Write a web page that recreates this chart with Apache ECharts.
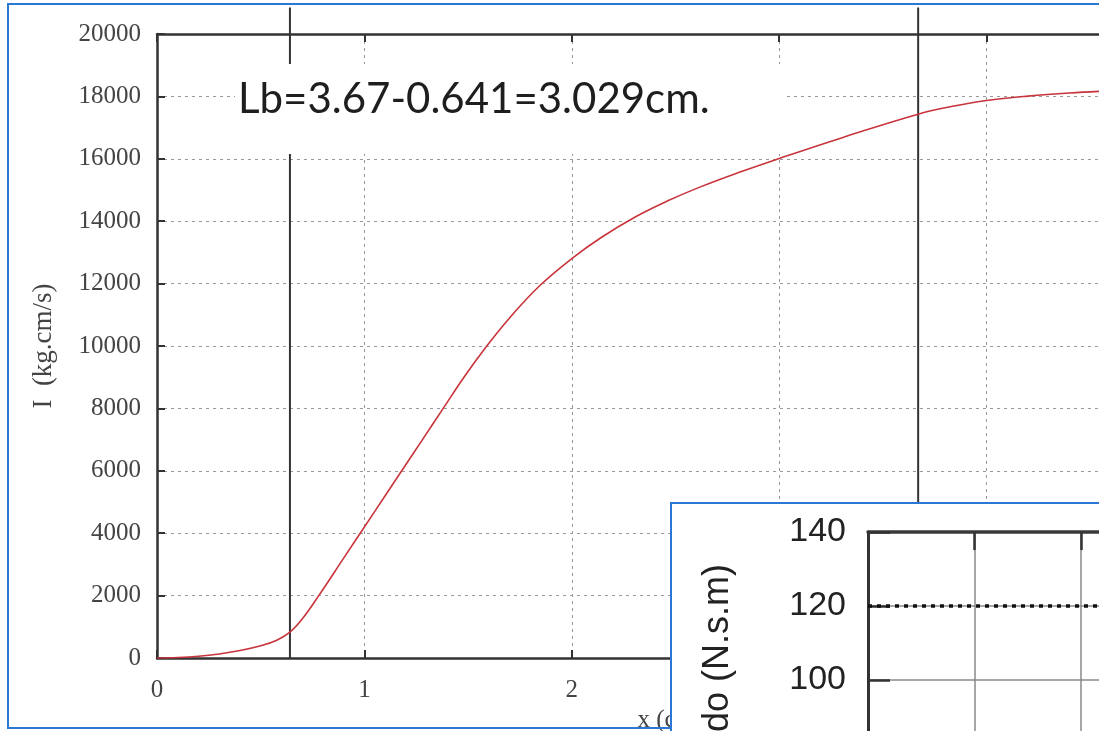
<!DOCTYPE html>
<html>
<head>
<meta charset="utf-8">
<script src="https://cdn.jsdelivr.net/npm/echarts@6/dist/echarts.min.js"></script>
<style>
  html, body { margin: 0; padding: 0; background: #ffffff; }
  #chart { width: 1099px; height: 731px; }
</style>
</head>
<body>
<div id="chart"></div>
<script>
// Impulse I (kg.cm/s) along x (cm)
const curveX = [0, 0.1, 0.2, 0.3, 0.4, 0.5, 0.58, 0.641, 0.7, 0.78, 0.9, 1.0, 1.1, 1.18, 1.28, 1.38, 1.48, 1.59, 1.7, 1.84, 2.0, 2.14, 2.31, 2.46, 2.62, 2.8, 3.0, 3.3, 3.67, 3.85, 4.0, 4.2, 4.4, 4.6];
const curveY = [0, 15, 55, 130, 240, 390, 580, 830, 1250, 2000, 3200, 4200, 5200, 6000, 7000, 8000, 9000, 10000, 10900, 11900, 12800, 13470, 14150, 14645, 15100, 15550, 16010, 16670, 17430, 17700, 17870, 18010, 18110, 18180];
// Limits of the burning length
const boundaryX = [0.641, 3.67];
const boundaryTop = 20850;
const noteText = 'Lb=3.67-0.641=3.029cm.';

// Second panel (N.s.m)
const insetX = [0, 1, 2, 3];
const insetY = [120, 120, 120, 120];
const insetName = 'do (N.s.m)';

const curveData = curveX.map((x, i) => [x, curveY[i]]);
const boundarySeries = boundaryX.map((x) => ({
  type: 'line',
  xAxisIndex: 0, yAxisIndex: 0,
  data: [[x, 0], [x, boundaryTop]],
  symbol: 'none',
  clip: false,
  silent: true,
  z: 4,
  lineStyle: { color: '#333333', width: 2 }
}));

const serif = 'Liberation Serif';
const sans = 'Liberation Sans';
const gridDots = { show: true, lineStyle: { color: '#9a9a9a', width: 1, type: [3, 4] } };

const chart = echarts.init(document.getElementById('chart'), null, { renderer: 'canvas' });

chart.setOption({
  animation: false,
  backgroundColor: '#ffffff',
  grid: [
    { left: 157, top: 34, width: 1037, height: 624, outerBoundsMode: 'none', containLabel: false },
    { left: 868, top: 532, width: 319.5, height: 222, outerBoundsMode: 'none', containLabel: false }
  ],
  xAxis: [
    {
      gridIndex: 0, type: 'value', min: 0, max: 5, interval: 1,
      name: 'x (cm)', nameLocation: 'middle', nameGap: 50,
      nameTextStyle: { fontFamily: serif, fontSize: 25, color: '#444', padding: [0, 10, 0, 0] },
      axisLine: { show: true, onZero: false, lineStyle: { color: '#333', width: 2.5 } },
      axisTick: { show: true, inside: true, length: 8, lineStyle: { color: '#333', width: 2 } },
      axisLabel: { fontFamily: serif, fontSize: 25, color: '#444', margin: 20, formatter: (v) => String(v) },
      splitLine: gridDots
    },
    {
      gridIndex: 0, type: 'value', position: 'top', min: 0, max: 5, interval: 1,
      axisLine: { show: true, onZero: false, lineStyle: { color: '#333', width: 2.5 } },
      axisTick: { show: true, inside: true, length: 8, lineStyle: { color: '#333', width: 2 } },
      axisLabel: { show: false },
      splitLine: { show: false }
    },
    {
      gridIndex: 1, type: 'value', min: 0, max: 3, interval: 1, z: 50,
      axisLine: { show: false },
      axisTick: { show: false },
      axisLabel: { show: false },
      splitLine: { show: true, lineStyle: { color: '#8a8a8a', width: 1.5 } }
    },
    {
      gridIndex: 1, type: 'value', position: 'top', min: 0, max: 3, interval: 1, z: 50,
      axisLine: { show: true, onZero: false, lineStyle: { color: '#3a3a3a', width: 3.5 } },
      axisTick: { show: true, inside: true, length: 18, lineStyle: { color: '#333', width: 2.5 } },
      axisLabel: { show: false },
      splitLine: { show: false }
    }
  ],
  yAxis: [
    {
      gridIndex: 0, type: 'value', min: 0, max: 20000, interval: 2000,
      name: 'I  (kg.cm/s)', nameLocation: 'middle', nameGap: 100,
      nameTextStyle: { fontFamily: serif, fontSize: 27, color: '#444' },
      axisLine: { show: true, onZero: false, lineStyle: { color: '#333', width: 2.5 } },
      axisTick: { show: true, inside: true, length: 8, lineStyle: { color: '#333', width: 2 } },
      axisLabel: { fontFamily: serif, fontSize: 25, color: '#444', margin: 16, formatter: (v) => String(v) },
      splitLine: gridDots
    },
    {
      gridIndex: 1, type: 'value', min: 80, max: 140, interval: 20, z: 50,
      axisLine: { show: true, onZero: false, lineStyle: { color: '#333', width: 3 } },
      axisTick: { show: true, inside: true, length: 22, lineStyle: { color: '#333', width: 2.5 } },
      axisLabel: { fontFamily: sans, fontSize: 34, color: '#222', margin: 22, formatter: (v) => String(v) },
      splitLine: { show: true, lineStyle: { color: '#8a8a8a', width: 1.5 } }
    }
  ],
  series: [
    {
      type: 'line',
      xAxisIndex: 0, yAxisIndex: 0,
      data: curveData,
      smooth: 0.4,
      symbol: 'none',
      z: 5,
      lineStyle: { color: '#c8343c', width: 1.6 }
    },
    ...boundarySeries,
    {
      type: 'line',
      xAxisIndex: 2, yAxisIndex: 1,
      data: insetX.map((x, i) => [x, insetY[i]]),
      symbol: 'none',
      z: 55,
      lineStyle: { color: '#111111', width: 3.5, type: [4, 5] }
    }
  ],
  graphic: [
    // white label box over the upper plot
    {
      type: 'rect', z: 20, silent: true,
      shape: { x: 235, y: 64, width: 548, height: 90 },
      style: { fill: '#ffffff' }
    },
    {
      type: 'text', z: 21, silent: true,
      x: 238, y: 99,
      style: { text: noteText, fontFamily: 'Lato', fontSize: 42, fill: '#1e1e1e', verticalAlign: 'middle', align: 'left' }
    },
    // frame around the whole figure
    {
      type: 'rect', z: 30, silent: true,
      shape: { x: 8, y: 4, width: 1300, height: 724 },
      style: { fill: null, stroke: '#2a78d2', lineWidth: 2 }
    },
    // framed second panel
    {
      type: 'rect', z: 40, silent: true,
      shape: { x: 671, y: 503, width: 600, height: 400 },
      style: { fill: '#ffffff', stroke: '#2a78d2', lineWidth: 2 }
    },
    {
      type: 'text', z: 56, silent: true,
      x: 718, y: 564, rotation: Math.PI / 2,
      style: { text: insetName, fontFamily: sans, fontSize: 36, fill: '#222', align: 'right', verticalAlign: 'middle' }
    }
  ]
});
</script>
</body>
</html>
